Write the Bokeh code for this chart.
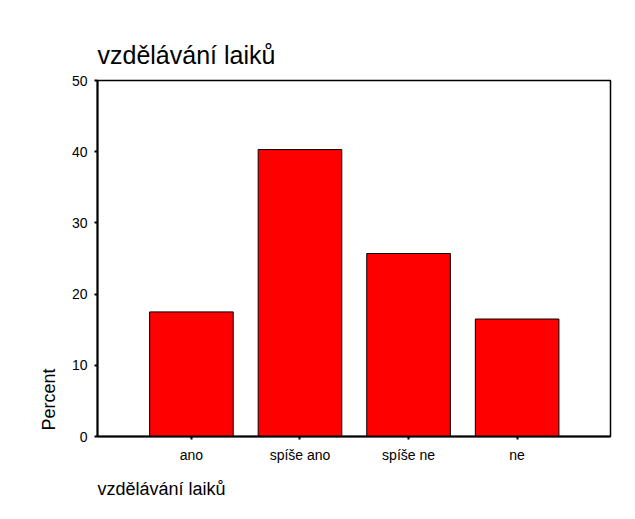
from bokeh.plotting import figure
from bokeh.models import Range1d, FixedTicker, Title
from bokeh.embed import file_html
from bokeh.resources import INLINE

categories = ["ano", "spíše ano", "spíše ne", "ne"]
percent = [17.5, 40.3, 25.7, 16.5]
y_ticks = [0, 10, 20, 30, 40, 50]
title_text = "vzdělávání laiků"
x_label = "vzdělávání laiků"
y_label = "Percent"

FONT = "Liberation Sans"
positions = list(range(1, len(categories) + 1))

p = figure(width=627, height=511, output_backend="svg", toolbar_location=None,
           x_range=Range1d(0.135, 4.86), y_range=Range1d(0, 50),
           min_border_left=97, min_border_right=17, min_border_top=80,
           min_border_bottom=75)

p.vbar(x=positions, top=percent, width=0.77, bottom=0,
       fill_color="#FF0000", line_color="black", line_width=1)

p.title.text = title_text
p.title.align = "left"
p.title.text_font = FONT
p.title.text_font_size = "25px"
p.title.text_font_style = "normal"
p.title.text_color = "black"
p.title.standoff = 23

p.xgrid.visible = False
p.ygrid.visible = False
p.outline_line_color = "black"
p.outline_line_width = 1.5
p.background_fill_color = "white"
p.border_fill_color = "white"

for ax in (p.xaxis[0], p.yaxis[0]):
    ax.axis_line_width = 2
    ax.axis_line_color = "black"
    ax.major_tick_line_width = 2
    ax.major_tick_line_color = "black"
    ax.major_tick_out = 3
    ax.major_tick_in = 0
    ax.minor_tick_line_color = None
    ax.major_label_text_font = FONT
    ax.major_label_text_font_size = "14px"
    ax.major_label_text_color = "black"

p.xaxis.ticker = FixedTicker(ticks=positions)
p.xaxis.major_label_overrides = {pos: cat for pos, cat in zip(positions, categories)}
p.xaxis.major_label_standoff = 7
p.yaxis.ticker = FixedTicker(ticks=y_ticks)
p.yaxis.major_label_standoff = 7

xt = Title(text=x_label, align="left", text_font=FONT, text_font_size="18px",
           text_font_style="normal", text_color="black", standoff=23)
p.add_layout(xt, "below")
yt = Title(text=y_label, align="left", text_font=FONT, text_font_size="18px",
           text_font_style="normal", text_color="black", standoff=19, offset=6)
p.add_layout(yt, "left")

open("out.html", "w").write(file_html(p, INLINE))
